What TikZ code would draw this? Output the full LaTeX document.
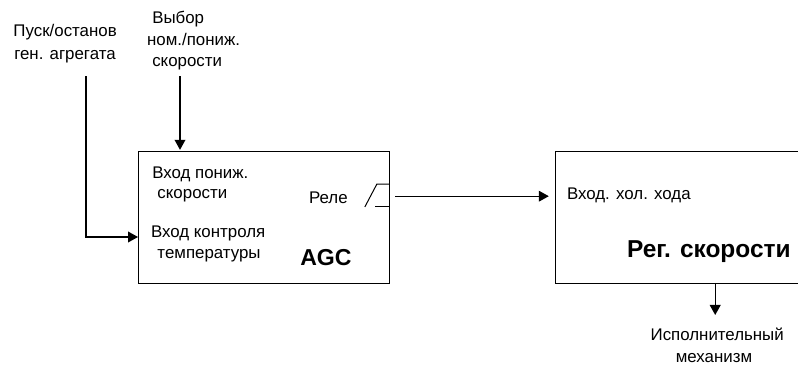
\documentclass[tikz,border=0pt]{standalone}
\usepackage{fontspec}
\setmainfont{Liberation Sans}
\usetikzlibrary{arrows.meta}
\begin{document}
\begin{tikzpicture}[
    blockbox/.style={draw, line width=0.9pt, inner sep=0pt, anchor=north west},
    signal/.style={draw, line width=0.8pt, -{Triangle[length=0.25cm, width=0.27cm]}},
    contact/.style={draw, line width=0.7pt},
    txt/.style={font=\fontsize{12}{14}\selectfont, anchor=west, inner sep=0pt, text height=9pt, text depth=3pt, yshift=-0.05cm},
    title/.style={font=\fontsize{16.4}{19}\selectfont\bfseries, anchor=west, inner sep=0pt, text height=12pt, text depth=4pt, yshift=-0.08cm}
]
  \useasboundingbox (0, 0) rectangle (19.95, 9.125);
  % --- blocks -------------------------------------------------------------
  \node[blockbox, minimum width=6.275cm, minimum height=3.3cm] (agc) at (3.45, 5.35) {};
  \node[blockbox, minimum width=6.5cm, minimum height=3.3cm] (speed) at (13.875, 5.35) {};
  % --- inputs above the first block ---------------------------------------
  \node[txt] (stop1) at (0.33, 8.36) {Пуск/останов};
  \node[txt] (stop2) at (0.35, 7.8) {ген. агрегата};
  \node[txt] (sel1) at (3.8, 8.69) {Выбор};
  \node[txt] (sel2) at (3.67, 8.15) {ном./пониж.};
  \node[txt] (sel3) at (3.8, 7.625) {скорости};
  % --- texts inside AGC ---------------------------------------------------
  \node[txt] (low1) at (3.8, 4.825) {Вход пониж.};
  \node[txt] (low2) at (3.93, 4.325) {скорости};
  \node[txt] (temp1) at (3.77, 3.35) {Вход контроля};
  \node[txt] (temp2) at (3.93, 2.825) {температуры};
  \node[txt] (relay) at (7.72, 4.2) {Реле};
  \node[title] (agcname) at (7.5, 2.7) {AGC};
  % --- texts inside the speed block and below it --------------------------
  \node[txt] (idle) at (14.17, 4.3) {Вход. хол. хода};
  \node[title, font=\fontsize{17.4}{20}\selectfont\bfseries] (speedname) at (15.67, 2.9) {Рег. скорости};
  \node[txt, anchor=center] (act1) at (17.93, 0.775) {Исполнительный};
  \node[txt, anchor=center] (act2) at (17.85, 0.225) {механизм};
  % --- free ends of the connectors ----------------------------------------
  \coordinate (stopend) at (2.15, 7.22);
  \coordinate (selend) at (4.5, 7.22);
  \coordinate (stopin) at (3.45, 3.2);
  \coordinate (selin) at (4.5, 5.38);
  \coordinate (relayout) at (9.88, 4.22);
  \coordinate (idlein) at (13.72, 4.22);
  \coordinate (actout) at (17.88, 2.05);
  \coordinate (actend) at (17.88, 1.25);
  % --- connectors ---------------------------------------------------------
  \draw[signal] (stopend) |- (stopin);
  \draw[signal] (selend) -- (selin);
  \draw[signal] (relayout) -- (idlein);
  \draw[signal] (actout) -- (actend);
  % --- relay contact ------------------------------------------------------
  \draw[contact] (9.12, 3.95) -- (9.42, 4.52) -- (9.72, 4.52);
  \draw[contact] (9.38, 3.97) -- (9.72, 3.97);
\end{tikzpicture}
\end{document}
